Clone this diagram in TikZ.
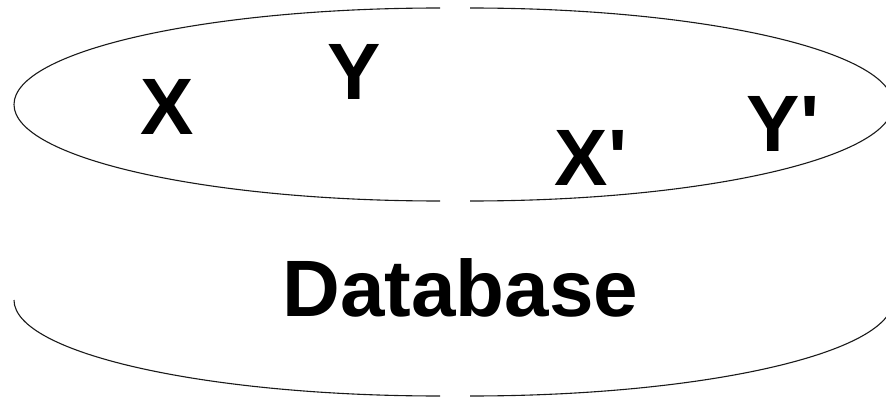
\documentclass[tikz,border=0pt]{standalone}
\usepackage{fontspec}
\setmainfont{Liberation Sans}

\begin{document}
\begin{tikzpicture}[x=1pt,y=1pt]

      \useasboundingbox (0,0) rectangle (886,397);

      \begin{scope}[every path/.style={draw,line width=1.1pt,black!90}]
        % top of the drum
        \path (440,389) arc (90:270:426 and 96.5);
        \path (470,389) arc (90:-90:423 and 96.5);
        % bottom of the drum
        \path (14,97) arc (180:270:426 and 96);
        \path (470,1) arc (270:360:423 and 96);
      \end{scope}

      \begin{scope}[every node/.style={anchor=base,inner sep=0pt,font=\fontsize{80}{96}\selectfont\bfseries}]
        \node (x)  at (167,262)   {X};
        \node (y)  at (354,297)   {Y};
        \node (xp) at (591,212)   {X\textquotesingle};
        \node (yp) at (783,245)   {Y\textquotesingle};
        \node (db) at (460.5,81)  {Database};
      \end{scope}

    \end{tikzpicture}
\end{document}
